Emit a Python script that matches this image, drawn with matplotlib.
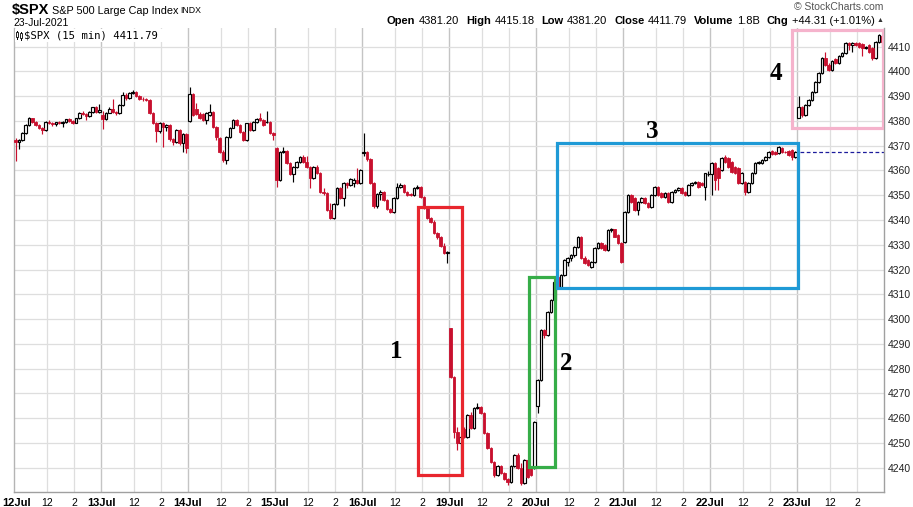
import matplotlib
matplotlib.use("Agg")
import matplotlib.pyplot as plt
from matplotlib.lines import Line2D
from matplotlib.patches import Rectangle
import numpy as np

# ---------------- data: $SPX 15-minute bars, 12 Jul - 23 Jul 2021 ----------------
day_labels = ["12Jul", "13Jul", "14Jul", "15Jul", "16Jul",
              "19Jul", "20Jul", "21Jul", "22Jul", "23Jul"]
intraday_labels = ["12", "2"]

opens = [
    # 12 Jul
    4372.4, 4371.3, 4372.4, 4375.2, 4378.4, 4381.0, 4379.6, 4378.4, 4377.3, 4376.3, 4379.6, 4379.0, 4378.6,
    4379.4, 4379.0, 4379.7, 4380.6, 4379.9, 4379.3, 4381.0, 4383.3, 4382.6, 4381.8, 4383.5, 4385.5, 4383.6,
    # 13 Jul
    4382.4, 4380.6, 4383.3, 4384.8, 4383.6, 4383.0, 4386.4, 4390.6, 4389.2, 4391.3, 4391.8, 4390.0, 4389.0,
    4388.7, 4388.6, 4383.0, 4379.0, 4375.8, 4379.0, 4377.4, 4378.2, 4372.5, 4371.6, 4376.3, 4371.0, 4374.9,
    # 14 Jul
    4380.1, 4390.7, 4384.9, 4382.7, 4382.6, 4380.4, 4382.4, 4383.6, 4377.7, 4373.2, 4367.6, 4364.2, 4373.6,
    4377.3, 4380.4, 4378.4, 4375.7, 4372.3, 4379.0, 4376.3, 4379.7, 4381.0, 4380.4, 4379.6, 4379.7, 4375.0,
    # 15 Jul
    4368.9, 4356.1, 4367.6, 4368.0, 4362.9, 4358.5, 4361.2, 4363.5, 4365.3, 4363.5, 4361.5, 4356.8, 4361.2,
    4359.1, 4351.4, 4350.8, 4344.0, 4340.9, 4346.4, 4352.8, 4348.7, 4354.8, 4354.1, 4355.0, 4356.3, 4354.8,
    # 16 Jul
    4367.2, 4367.3, 4364.5, 4355.0, 4345.5, 4350.5, 4351.3, 4348.0, 4344.5, 4343.3, 4349.0, 4353.4, 4354.2,
    4351.4, 4350.6, 4350.0, 4352.8, 4353.4, 4349.4, 4345.0, 4340.7, 4339.3, 4334.6, 4333.0, 4329.5, 4326.5,
    # 19 Jul
    4296.4, 4276.7, 4254.5, 4250.0, 4255.5, 4252.5, 4261.3, 4255.9, 4264.0, 4264.6, 4262.0, 4254.0, 4248.0,
    4242.4, 4237.0, 4240.5, 4238.0, 4235.5, 4234.4, 4240.5, 4245.0, 4240.0, 4233.7, 4243.0, 4239.8, 4240.0,
    # 20 Jul
    4265.1, 4275.4, 4295.6, 4293.6, 4303.0, 4307.7, 4317.1, 4313.1, 4317.8, 4323.2, 4324.5, 4325.9, 4329.2,
    4333.3, 4324.5, 4323.8, 4321.2, 4323.2, 4328.6, 4330.6, 4329.9, 4327.9, 4336.0, 4336.2, 4334.0, 4330.6,
    # 21 Jul
    4331.1, 4343.4, 4350.1, 4348.7, 4344.0, 4347.4, 4348.8, 4347.0, 4345.4, 4350.1, 4353.4, 4350.8, 4349.4,
    4350.8, 4347.4, 4351.4, 4352.1, 4352.8, 4351.5, 4350.1, 4354.1, 4354.8, 4355.5, 4355.0, 4353.5, 4358.5,
    # 22 Jul
    4358.7, 4362.9, 4360.9, 4360.2, 4365.6, 4364.9, 4363.6, 4361.5, 4360.9, 4354.8, 4355.5, 4351.4, 4354.8,
    4358.8, 4362.9, 4363.2, 4364.2, 4365.6, 4368.0, 4367.6, 4367.0, 4369.0, 4367.6, 4368.0, 4368.3, 4365.6,
    # 23 Jul
    4381.2, 4385.8, 4382.4, 4386.4, 4388.4, 4391.8, 4395.9, 4399.2, 4405.3, 4402.6, 4400.6, 4404.9, 4403.3,
    4406.0, 4407.3, 4411.6, 4410.7, 4411.6, 4411.3, 4411.0, 4409.3, 4410.6, 4409.3, 4405.3, 4412.0, 4414.3,
]
highs = [
    # 12 Jul
    4373.0, 4372.6, 4375.6, 4378.8, 4381.5, 4381.3, 4380.0, 4378.8, 4377.7, 4379.9, 4380.4, 4379.5, 4379.7,
    4379.9, 4380.1, 4380.9, 4381.0, 4380.3, 4381.3, 4383.6, 4383.8, 4383.0, 4383.8, 4385.8, 4385.9, 4386.7,
    # 13 Jul
    4383.9, 4383.6, 4385.6, 4388.7, 4384.0, 4386.7, 4391.5, 4391.2, 4391.6, 4392.4, 4392.0, 4390.4, 4389.5,
    4389.2, 4389.0, 4383.4, 4379.4, 4379.4, 4379.5, 4378.6, 4378.6, 4373.0, 4376.6, 4376.7, 4375.3, 4375.2,
    # 14 Jul
    4393.7, 4391.2, 4387.1, 4383.5, 4383.0, 4383.4, 4386.7, 4384.0, 4378.1, 4373.6, 4368.3, 4374.0, 4377.7,
    4380.8, 4380.8, 4378.8, 4376.1, 4379.3, 4379.4, 4380.0, 4381.1, 4383.1, 4380.8, 4384.0, 4380.1, 4375.4,
    # 15 Jul
    4369.5, 4368.0, 4369.3, 4368.4, 4363.3, 4361.6, 4363.9, 4365.7, 4366.2, 4366.0, 4361.9, 4361.6, 4362.0,
    4359.5, 4353.0, 4351.2, 4346.7, 4346.8, 4353.2, 4353.2, 4355.2, 4355.3, 4357.1, 4356.8, 4361.0, 4360.4,
    # 16 Jul
    4375.1, 4367.7, 4364.9, 4355.4, 4351.0, 4352.0, 4351.7, 4348.4, 4344.9, 4349.4, 4354.8, 4355.0, 4354.6,
    4351.8, 4351.0, 4353.2, 4354.3, 4353.8, 4349.8, 4345.4, 4341.4, 4340.0, 4335.3, 4333.5, 4330.8, 4327.6,
    # 19 Jul
    4296.4, 4277.2, 4256.6, 4252.9, 4256.3, 4261.7, 4262.4, 4264.4, 4266.3, 4265.0, 4262.6, 4254.4, 4248.4,
    4242.8, 4241.0, 4241.0, 4238.4, 4236.0, 4240.9, 4245.4, 4245.8, 4241.8, 4243.5, 4243.4, 4240.2, 4258.9,
    # 20 Jul
    4275.8, 4296.0, 4296.0, 4303.4, 4308.1, 4315.5, 4317.5, 4318.2, 4324.2, 4324.9, 4326.3, 4329.6, 4333.7,
    4333.7, 4325.6, 4324.2, 4323.6, 4328.9, 4331.0, 4331.0, 4330.3, 4336.4, 4336.8, 4336.5, 4334.4, 4331.0,
    # 21 Jul
    4343.8, 4350.5, 4350.5, 4349.1, 4347.8, 4349.2, 4349.2, 4347.4, 4350.5, 4353.8, 4353.8, 4351.2, 4351.2,
    4351.2, 4351.8, 4352.5, 4353.2, 4353.2, 4351.9, 4354.5, 4355.2, 4355.9, 4355.9, 4355.5, 4358.9, 4359.7,
    # 22 Jul
    4363.3, 4363.3, 4361.3, 4365.3, 4366.3, 4365.3, 4364.0, 4361.9, 4361.3, 4359.2, 4355.9, 4355.2, 4359.2,
    4363.3, 4364.0, 4364.6, 4366.0, 4368.0, 4368.4, 4368.0, 4369.9, 4369.4, 4368.0, 4368.4, 4368.7, 4367.9,
    # 23 Jul
    4390.0, 4386.2, 4386.8, 4388.8, 4392.2, 4396.3, 4399.6, 4405.7, 4408.0, 4403.2, 4404.4, 4405.3, 4406.4,
    4407.7, 4411.7, 4412.0, 4412.0, 4412.0, 4411.7, 4411.4, 4410.4, 4411.0, 4409.7, 4412.4, 4415.2, 4414.7,
]
lows = [
    # 12 Jul
    4364.0, 4368.5, 4371.8, 4374.8, 4378.0, 4379.2, 4377.9, 4376.9, 4374.6, 4376.0, 4378.6, 4378.0, 4378.1,
    4378.6, 4377.7, 4379.3, 4379.6, 4378.9, 4379.0, 4380.7, 4382.3, 4380.5, 4381.5, 4383.2, 4383.0, 4383.3,
    # 13 Jul
    4376.6, 4380.2, 4383.0, 4383.3, 4382.5, 4382.7, 4386.1, 4388.6, 4388.9, 4390.9, 4389.6, 4388.6, 4388.2,
    4388.0, 4382.7, 4378.6, 4371.5, 4375.3, 4369.6, 4376.1, 4372.0, 4370.2, 4371.0, 4370.4, 4367.5, 4366.9,
    # 14 Jul
    4379.6, 4382.0, 4382.3, 4380.6, 4379.9, 4378.6, 4382.0, 4377.3, 4372.3, 4367.2, 4363.5, 4362.5, 4373.2,
    4377.0, 4378.0, 4375.3, 4372.0, 4372.0, 4376.0, 4376.0, 4379.3, 4380.1, 4378.0, 4379.2, 4374.6, 4372.3,
    # 15 Jul
    4353.2, 4355.8, 4367.0, 4362.5, 4358.0, 4355.5, 4360.8, 4363.1, 4363.1, 4361.1, 4352.8, 4356.4, 4358.7,
    4351.0, 4350.1, 4343.5, 4340.6, 4340.6, 4346.0, 4348.3, 4345.6, 4353.0, 4353.7, 4353.4, 4354.4, 4354.4,
    # 16 Jul
    4366.0, 4364.0, 4354.4, 4345.0, 4345.0, 4348.0, 4347.6, 4344.0, 4342.8, 4343.0, 4348.6, 4353.0, 4351.0,
    4349.8, 4349.6, 4349.6, 4352.4, 4349.0, 4344.6, 4340.3, 4338.9, 4334.2, 4332.5, 4329.1, 4326.1, 4322.5,
    # 19 Jul
    4276.2, 4252.0, 4247.1, 4240.0, 4251.8, 4252.1, 4255.5, 4255.5, 4263.6, 4261.6, 4253.6, 4247.4, 4241.8,
    4236.4, 4236.6, 4237.5, 4235.1, 4233.1, 4234.0, 4240.1, 4239.6, 4233.1, 4233.3, 4236.0, 4236.6, 4239.6,
    # 20 Jul
    4262.0, 4275.0, 4292.5, 4293.2, 4302.6, 4307.3, 4312.7, 4312.7, 4317.4, 4321.6, 4323.4, 4325.2, 4328.8,
    4324.1, 4322.1, 4321.4, 4320.5, 4322.8, 4328.2, 4328.2, 4327.5, 4327.5, 4335.2, 4333.0, 4330.2, 4322.8,
    # 21 Jul
    4330.9, 4343.0, 4346.9, 4343.6, 4342.0, 4347.0, 4346.4, 4344.7, 4345.0, 4349.7, 4349.7, 4349.0, 4349.0,
    4347.0, 4347.0, 4351.0, 4351.7, 4350.4, 4349.7, 4349.7, 4353.7, 4354.4, 4353.1, 4353.7, 4348.0, 4357.8,
    # 22 Jul
    4350.1, 4352.0, 4352.1, 4359.8, 4363.2, 4361.1, 4359.1, 4358.4, 4354.4, 4354.4, 4350.1, 4351.0, 4354.4,
    4358.4, 4362.5, 4362.8, 4363.8, 4365.2, 4366.2, 4366.2, 4366.6, 4367.2, 4367.0, 4365.8, 4364.2, 4365.2,
    # 23 Jul
    4381.2, 4381.5, 4382.0, 4386.0, 4388.0, 4391.4, 4395.5, 4398.8, 4402.2, 4400.2, 4400.2, 4402.9, 4402.9,
    4405.6, 4406.9, 4408.6, 4408.0, 4410.3, 4409.6, 4406.0, 4409.0, 4407.6, 4404.5, 4404.9, 4411.6, 4410.3,
]
closes = [
    # 12 Jul
    4371.3, 4372.4, 4375.2, 4378.4, 4381.0, 4379.6, 4378.4, 4377.3, 4376.3, 4379.6, 4379.0, 4378.6, 4379.4,
    4379.0, 4379.7, 4380.6, 4379.9, 4379.3, 4381.0, 4383.3, 4382.6, 4381.8, 4383.5, 4385.5, 4383.6, 4384.6,
    # 13 Jul
    4380.6, 4383.3, 4384.8, 4383.6, 4383.0, 4386.4, 4390.6, 4389.2, 4391.3, 4391.8, 4390.0, 4389.0, 4388.7,
    4388.6, 4383.0, 4379.0, 4375.8, 4379.0, 4377.4, 4378.2, 4372.5, 4371.6, 4376.3, 4371.0, 4374.9, 4369.2,
    # 14 Jul
    4390.7, 4382.4, 4382.7, 4381.0, 4380.4, 4383.1, 4383.6, 4377.7, 4373.6, 4367.6, 4364.2, 4373.6, 4377.3,
    4380.4, 4378.4, 4375.7, 4372.3, 4379.0, 4376.3, 4379.7, 4380.8, 4380.4, 4378.4, 4379.7, 4375.0, 4374.3,
    # 15 Jul
    4356.1, 4367.6, 4368.0, 4362.9, 4358.5, 4361.2, 4363.5, 4365.3, 4363.5, 4361.5, 4356.8, 4361.2, 4359.1,
    4351.4, 4350.8, 4344.0, 4340.9, 4346.4, 4352.8, 4348.7, 4354.8, 4354.1, 4356.7, 4356.3, 4354.8, 4360.0,
    # 16 Jul
    4367.3, 4364.5, 4355.0, 4345.5, 4350.5, 4351.3, 4348.0, 4344.5, 4343.3, 4349.0, 4353.4, 4354.2, 4351.4,
    4350.2, 4350.0, 4352.8, 4353.4, 4349.4, 4345.0, 4340.7, 4339.3, 4334.6, 4333.0, 4329.5, 4326.5, 4327.2,
    # 19 Jul
    4276.7, 4254.5, 4250.0, 4252.5, 4252.5, 4261.3, 4255.9, 4264.0, 4264.6, 4262.0, 4254.0, 4248.0, 4242.4,
    4237.0, 4240.5, 4238.0, 4235.5, 4234.4, 4240.5, 4245.0, 4240.0, 4233.7, 4243.0, 4236.4, 4237.0, 4258.5,
    # 20 Jul
    4275.4, 4295.6, 4293.6, 4303.0, 4307.7, 4315.1, 4313.1, 4317.8, 4323.8, 4324.5, 4325.9, 4329.2, 4333.3,
    4324.5, 4322.5, 4321.8, 4323.2, 4328.6, 4330.6, 4328.6, 4327.9, 4336.0, 4336.2, 4333.3, 4330.6, 4323.1,
    # 21 Jul
    4343.4, 4350.1, 4347.4, 4344.0, 4347.4, 4348.8, 4346.8, 4345.4, 4350.1, 4353.4, 4350.1, 4349.4, 4350.8,
    4347.4, 4351.4, 4352.1, 4352.8, 4350.8, 4350.1, 4354.1, 4354.8, 4355.5, 4353.5, 4354.1, 4358.8, 4358.7,
    # 22 Jul
    4362.9, 4356.2, 4356.8, 4364.9, 4363.6, 4361.5, 4359.5, 4358.8, 4354.8, 4358.8, 4351.4, 4354.8, 4358.8,
    4362.9, 4363.6, 4364.2, 4365.6, 4367.6, 4366.6, 4366.6, 4369.6, 4367.6, 4367.4, 4366.2, 4365.6, 4367.5,
    # 23 Jul
    4385.8, 4382.4, 4386.4, 4388.4, 4391.8, 4395.9, 4399.2, 4405.3, 4402.6, 4400.6, 4404.0, 4403.3, 4406.0,
    4407.3, 4411.3, 4410.7, 4411.3, 4410.7, 4410.0, 4409.3, 4410.0, 4408.0, 4405.3, 4412.0, 4414.7, 4411.8,
]
bars_per_day = 26
bars_to_noon = 10        # 9:30 -> 12:00
bars_to_2pm = 18         # 9:30 -> 14:00
ytick_values = list(range(4240, 4411, 10))
prev_close = 4367.48

header_pieces = [("Open", True), ("4381.20", False), ("High", True), ("4415.18", False),
                 ("Low", True), ("4381.20", False), ("Close", True), ("4411.79", False),
                 ("Volume", True), ("1.8B", False), ("Chg", True), ("+44.31 (+1.01%)", False)]

# ---------------- styling ----------------
W, H = 913, 507
RED = "#c8102e"
FONT = "Liberation Sans"
plt.rcParams["font.family"] = [FONT, "DejaVu Sans"]

fig = plt.figure(figsize=(W / 100, H / 100), dpi=100)
fig.patch.set_facecolor("white")
L_PX, R_PX, T_PX, B_PX = 14, 884, 28, 492
ax = fig.add_axes([L_PX / W, 1 - B_PX / H, (R_PX - L_PX) / W, (B_PX - T_PX) / H])


def fx(px):
    return px / W


def fy(py):
    return 1 - py / H


o = np.array(opens)
h = np.array(highs)
l = np.array(lows)
c = np.array(closes)
x = np.arange(len(c))
n_days = len(day_labels)

ax.set_xlim(-0.5, n_days * bars_per_day - 0.5)
ax.set_ylim(4230.2, 4417.5)

# grid
for d in range(n_days):
    sep = d * bars_per_day - 0.5
    if d > 0:
        ax.axvline(sep, color="#c4c4c4", lw=1.0, zorder=0)
    ax.axvline(sep + bars_to_noon, color="#dedede", lw=0.9, zorder=0)
    ax.axvline(sep + bars_to_2pm, color="#dedede", lw=0.9, zorder=0)
for yv in ytick_values:
    ax.axhline(yv, color="#dedede", lw=0.9, zorder=0)

# candles
up = c >= o
dn = ~up
ax.vlines(x[up], l[up], h[up], color="black", lw=0.85, zorder=3)
ax.vlines(x[dn], l[dn], h[dn], color=RED, lw=0.85, zorder=3)
ax.bar(x[up], np.maximum(c[up] - o[up], 0.12), bottom=o[up], width=0.78,
       facecolor="white", edgecolor="black", linewidth=0.85, zorder=4)
ax.bar(x[dn], o[dn] - c[dn], bottom=c[dn], width=0.78,
       facecolor=RED, edgecolor=RED, linewidth=0.6, zorder=4)

# previous close dashed line
last_day_start = (n_days - 1) * bars_per_day - 0.5
ax.plot([last_day_start + 1.0, n_days * bars_per_day - 0.5], [prev_close, prev_close],
        color="#1c1c9c", lw=0.9, ls=(0, (3, 2)), zorder=2)

# annotation boxes (bar-index / price coordinates)
boxes = [
    ((120.1, 4237.1), (133.5, 4345.4), "#e8262e"),
    ((153.5, 4240.4), (161.2, 4316.9), "#36ad48"),
    ((161.7, 4312.4), (233.8, 4371.0), "#1f9ad6"),
    ((231.9, 4377.0), (259.3, 4416.7), "#f5b3cc"),
]
for (x0, y0), (x1, y1), col in boxes:
    ax.add_patch(Rectangle((x0, y0), x1 - x0, y1 - y0, fill=False,
                           edgecolor=col, lw=2.3, zorder=5))

# number labels
for txt, px, py in [("1", 396, 352), ("2", 566, 364), ("3", 652, 131), ("4", 776, 73)]:
    fig.text(fx(px), fy(py), txt, ha="center", va="center", fontsize=18,
             fontweight="bold", family="Liberation Serif", color="black")

# axes / spines
ax.spines["top"].set_visible(False)
ax.spines["left"].set_color("#b4b4b4")
ax.spines["left"].set_linewidth(1.0)
for s in ("right", "bottom"):
    ax.spines[s].set_color("#a0a0a0")
    ax.spines[s].set_linestyle((0, (1, 1)))
    ax.spines[s].set_linewidth(1.0)

ax.yaxis.tick_right()
ax.set_yticks(ytick_values)
ax.set_yticklabels([str(v) for v in ytick_values])
ax.tick_params(axis="y", length=0, pad=3, labelsize=7.5, labelcolor="#222222")

xt, xl, xw = [], [], []
for d, lab in enumerate(day_labels):
    sep = d * bars_per_day - 0.5
    xt.append(sep if d > 0 else 0.2)
    xl.append(lab)
    xw.append("bold")
    xt.append(sep + bars_to_noon)
    xl.append(intraday_labels[0])
    xw.append("normal")
    xt.append(sep + bars_to_2pm)
    xl.append(intraday_labels[1])
    xw.append("normal")
ax.set_xticks(xt)
ax.set_xticklabels(xl)
ax.tick_params(axis="x", length=0, pad=4, labelsize=8, labelcolor="black")
for lbl, wgt in zip(ax.get_xticklabels(), xw):
    lbl.set_fontweight(wgt)
    if wgt == "normal":
        lbl.set_fontsize(7.5)

# legend strip inside plot
fig.add_artist(Rectangle((fx(15), fy(42)), fx(165) - fx(15), fy(29) - fy(42),
                         transform=fig.transFigure, facecolor="white", edgecolor="none", zorder=6))
for (ix, top, bot, bt, bb) in [(17, 31, 39, 32.5, 37), (20.5, 31.5, 39.5, 33, 38)]:
    fig.add_artist(Line2D([fx(ix), fx(ix)], [fy(bot), fy(top)], color="black", lw=0.7, zorder=7))
    fig.add_artist(Rectangle((fx(ix - 1), fy(bb)), fx(2), fy(bt) - fy(bb),
                             transform=fig.transFigure, facecolor="white",
                             edgecolor="black", lw=0.6, zorder=8))
fig.text(fx(24), fy(35.5), "\\$SPX (15 min) 4411.79", ha="left", va="center",
         fontsize=7.7, family="DejaVu Sans Mono", color="black", zorder=9)

# header
fig.text(fx(12), fy(10), "\\$SPX", ha="left", va="center", fontsize=10.5,
         fontweight="bold", color="black")
fig.text(fx(52), fy(10.5), "S&P 500 Large Cap Index", ha="left", va="center",
         fontsize=7.8, color="black")
fig.text(fx(180), fy(10.8), "INDX", ha="left", va="center", fontsize=6.3, color="black")
fig.text(fx(13), fy(23), "23-Jul-2021", ha="left", va="center", fontsize=7.5, color="black")
fig.text(fx(883), fy(7.5), "\u00a9 StockCharts.com", ha="right", va="center",
         fontsize=7.5, color="#555555")

renderer = fig.canvas.get_renderer()
fig.text(fx(883), fy(20.5), "\u25b2", ha="right", va="center", fontsize=5, color="#333333")
xr = 875.0
for i, (txt, bold) in enumerate(reversed(header_pieces)):
    t = fig.text(fx(xr), fy(20.5), txt, ha="right", va="center", fontsize=8,
                 fontweight="bold" if bold else "normal", color="black")
    wpx = t.get_window_extent(renderer).width
    xr -= wpx + (3.5 if not bold else 7.0)

fig.savefig("out.png", dpi=100, facecolor="white")
